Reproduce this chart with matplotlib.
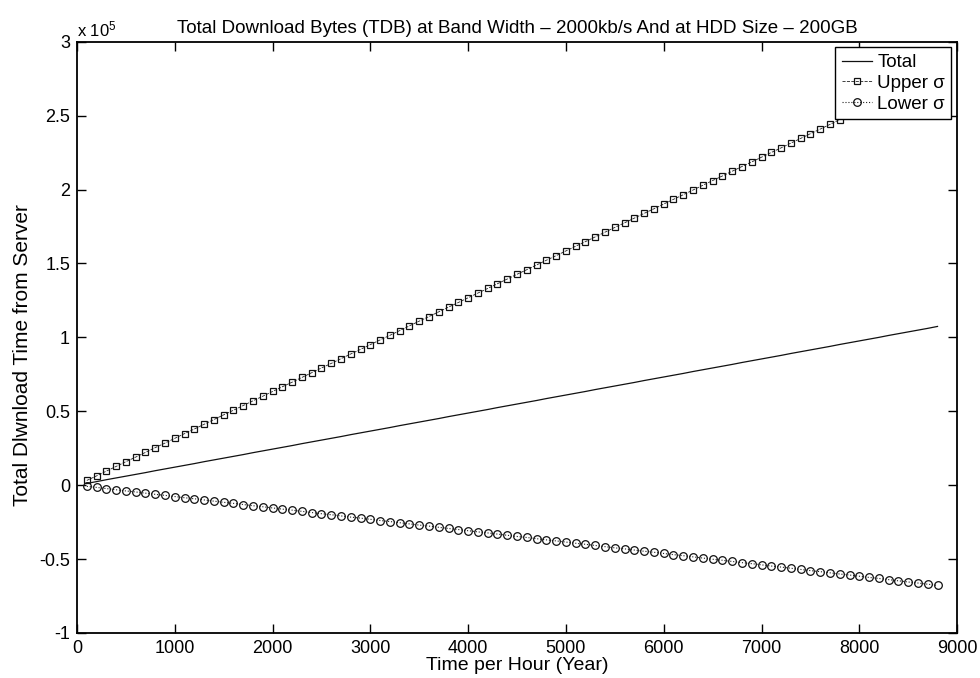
import matplotlib
matplotlib.use("Agg")
import matplotlib.pyplot as plt
from matplotlib.ticker import FuncFormatter, MultipleLocator

plt.rcParams['font.family'] = ['Liberation Sans', 'DejaVu Sans']
plt.rcParams['mathtext.fontset'] = 'custom'
plt.rcParams['mathtext.rm'] = 'Liberation Sans'
plt.rcParams['mathtext.it'] = 'Liberation Sans'

# Time (hours)
hours = [100, 200, 300, 400, 500, 600, 700, 800, 900, 1000,
         1100, 1200, 1300, 1400, 1500, 1600, 1700, 1800, 1900, 2000,
         2100, 2200, 2300, 2400, 2500, 2600, 2700, 2800, 2900, 3000,
         3100, 3200, 3300, 3400, 3500, 3600, 3700, 3800, 3900, 4000,
         4100, 4200, 4300, 4400, 4500, 4600, 4700, 4800, 4900, 5000,
         5100, 5200, 5300, 5400, 5500, 5600, 5700, 5800, 5900, 6000,
         6100, 6200, 6300, 6400, 6500, 6600, 6700, 6800, 6900, 7000,
         7100, 7200, 7300, 7400, 7500, 7600, 7700, 7800, 7900, 8000,
         8100, 8200, 8300, 8400, 8500, 8600, 8700, 8800]

# Values in thousands
total_k = [1.2, 2.4, 3.7, 4.9, 6.1, 7.3, 8.5, 9.8, 11.0, 12.2,
           13.4, 14.6, 15.9, 17.1, 18.3, 19.5, 20.7, 22.0, 23.2, 24.4,
           25.6, 26.8, 28.1, 29.3, 30.5, 31.7, 32.9, 34.2, 35.4, 36.6,
           37.8, 39.0, 40.3, 41.5, 42.7, 43.9, 45.1, 46.4, 47.6, 48.8,
           50.0, 51.2, 52.5, 53.7, 54.9, 56.1, 57.3, 58.6, 59.8, 61.0,
           62.2, 63.4, 64.7, 65.9, 67.1, 68.3, 69.5, 70.8, 72.0, 73.2,
           74.4, 75.6, 76.9, 78.1, 79.3, 80.5, 81.7, 83.0, 84.2, 85.4,
           86.6, 87.8, 89.1, 90.3, 91.5, 92.7, 93.9, 95.2, 96.4, 97.6,
           98.8, 100.0, 101.3, 102.5, 103.7, 104.9, 106.1, 107.4]

upper_k = [3.2, 6.3, 9.5, 12.7, 15.9, 19.0, 22.2, 25.4, 28.5, 31.7,
           34.9, 38.0, 41.2, 44.4, 47.6, 50.7, 53.9, 57.1, 60.2, 63.4,
           66.6, 69.7, 72.9, 76.1, 79.3, 82.4, 85.6, 88.8, 91.9, 95.1,
           98.3, 101.4, 104.6, 107.8, 111.0, 114.1, 117.3, 120.5, 123.6, 126.8,
           130.0, 133.1, 136.3, 139.5, 142.7, 145.8, 149.0, 152.2, 155.3, 158.5,
           161.7, 164.8, 168.0, 171.2, 174.4, 177.5, 180.7, 183.9, 187.0, 190.2,
           193.4, 196.5, 199.7, 202.9, 206.1, 209.2, 212.4, 215.6, 218.7, 221.9,
           225.1, 228.2, 231.4, 234.6, 237.8, 240.9, 244.1, 247.3, 250.4, 253.6,
           256.8, 259.9, 263.1, 266.3, 269.5, 272.6, 275.8, 279.0]

lower_k = [-0.8, -1.5, -2.3, -3.1, -3.9, -4.6, -5.4, -6.2, -6.9, -7.7,
           -8.5, -9.2, -10.0, -10.8, -11.6, -12.3, -13.1, -13.9, -14.6, -15.4,
           -16.2, -16.9, -17.7, -18.5, -19.3, -20.0, -20.8, -21.6, -22.3, -23.1,
           -23.9, -24.6, -25.4, -26.2, -27.0, -27.7, -28.5, -29.3, -30.0, -30.8,
           -31.6, -32.3, -33.1, -33.9, -34.7, -35.4, -36.2, -37.0, -37.7, -38.5,
           -39.3, -40.0, -40.8, -41.6, -42.4, -43.1, -43.9, -44.7, -45.4, -46.2,
           -47.0, -47.7, -48.5, -49.3, -50.1, -50.8, -51.6, -52.4, -53.1, -53.9,
           -54.7, -55.4, -56.2, -57.0, -57.8, -58.5, -59.3, -60.1, -60.8, -61.6,
           -62.4, -63.1, -63.9, -64.7, -65.5, -66.2, -67.0, -67.8]

total = [v * 1000 for v in total_k]
upper = [v * 1000 for v in upper_k]
lower = [v * 1000 for v in lower_k]

fig = plt.figure(figsize=(9.8, 6.78), dpi=100)
ax = fig.add_axes([0.0786, 0.0664, 0.898, 0.872])

ax.plot(hours, total, '-', color='#111111', lw=0.9, label='Total')
ax.plot(hours, upper, '--', color='#222222', lw=0.6, marker='s', ms=5,
        mfc='none', mec='#111111', mew=0.9, label='Upper σ')
ax.plot(hours, lower, ':', color='#222222', lw=0.8, marker='o', ms=5.5,
        mfc='none', mec='#111111', mew=0.9, label='Lower σ')

ax.set_xlim(0, 9000)
ax.set_ylim(-1e5, 3e5)
ax.xaxis.set_major_locator(MultipleLocator(1000))
ax.yaxis.set_major_locator(MultipleLocator(0.5e5))
ax.yaxis.set_major_formatter(FuncFormatter(lambda v, p: '%g' % (v / 1e5)))

ax.tick_params(direction='in', top=True, right=True, length=6.5, width=1,
               labelsize=13, pad=5)
for s in ax.spines.values():
    s.set_linewidth(1.3)

ax.text(0.0, 1.004, 'x 10$^5$', transform=ax.transAxes, ha='left', va='bottom',
        fontsize=12)

ax.set_title('Total Download Bytes (TDB) at Band Width \u2013 2000kb/s And at HDD Size \u2013 200GB',
             fontsize=13.5, pad=6)
ax.set_xlabel('Time per Hour (Year)', fontsize=14, labelpad=0)
ax.set_ylabel('Total Dlwnload Time from Server', fontsize=15, labelpad=5, y=0.47)

leg = ax.legend(loc='upper right', fontsize=13.5, frameon=True, fancybox=False,
                framealpha=1, borderpad=0.35, labelspacing=0.2, handlelength=1.6,
                handletextpad=0.3, borderaxespad=0.3)
leg.get_frame().set_edgecolor('black')
leg.get_frame().set_linewidth(1.0)

fig.savefig('out.png', dpi=100)
